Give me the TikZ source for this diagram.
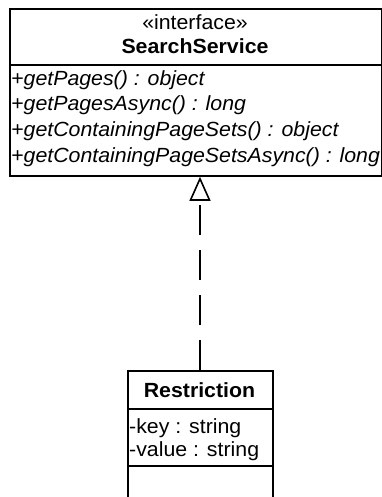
\documentclass[tikz,border=0pt]{standalone}
\usepackage{fontspec}
\setmainfont[FakeStretch=1.04]{Liberation Sans}
\usetikzlibrary{arrows.meta}
\tikzset{
  box/.style={draw=black, line width=1.8pt},
  txt/.style={inner sep=0pt, font=\fontsize{20.5}{24}\selectfont},
  op/.style={txt, anchor=base west, font=\fontsize{20.5}{24}\selectfont\itshape},
  attr/.style={txt, anchor=base west},
  realize/.style={line width=1.8pt, dash pattern=on 30pt off 15pt,
    -{Triangle[open, length=24pt, width=21pt, line width=1.6pt]}}
}
\begin{document}
\begin{tikzpicture}[x=1pt, y=-1pt]
\useasboundingbox (0,0) rectangle (382,497);
% SearchService interface
\node[box, inner sep=0pt, anchor=north west, minimum width=372pt, minimum height=167pt] (iface) at (9,8) {};
\draw[box] (9,65) -- (381,65);
\node[txt, anchor=base] (stereo) at (195,30) {«interface»};
\node[txt, anchor=base, font=\fontsize{20.5}{24}\selectfont\bfseries] (ifname) at (195,54) {SearchService};
\node[op] (m1) at (11,86) {+getPages() : object};
\node[op] (m2) at (11,111) {+getPagesAsync() : long};
\node[op] (m3) at (11,137) {+getContainingPageSets() : object};
\node[op] (m4) at (11,162) {+getContainingPageSetsAsync() : long};
% Restriction class (cut off at the bottom)
\coordinate (rtop) at (200,370);
\begin{scope}
\clip (0,0) rectangle (382,497);
\node[box, inner sep=0pt, anchor=north west, minimum width=145pt, minimum height=150pt] (restr) at (127,370) {};
\end{scope}
\draw[box] (127,409) -- (272,409);
\draw[box] (127,466) -- (272,466);
\node[txt, anchor=base, font=\fontsize{20.5}{24}\selectfont\bfseries] (rname) at (199.5,397) {Restriction};
\node[attr] (a1) at (129,433) {-key : string};
\node[attr] (a2) at (129,456) {-value : string};
% realization
\draw[realize] (rtop) -- (iface.south -| rtop);
\end{tikzpicture}
\end{document}
